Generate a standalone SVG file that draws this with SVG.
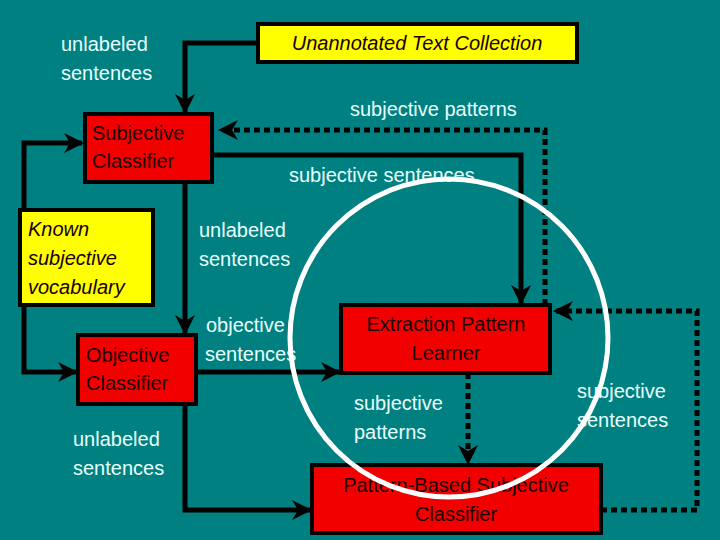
<svg xmlns="http://www.w3.org/2000/svg" width="720" height="540" viewBox="0 0 720 540">
<defs>
<marker id="ah" viewBox="0 0 20 20" refX="18" refY="10" markerWidth="20" markerHeight="20" markerUnits="userSpaceOnUse" orient="auto"><path d="M0,0 L20,10 L0,20 L6,10 Z" fill="#000"/></marker>
</defs>
<style>
.box{stroke:#000;stroke-width:4}
.red{fill:#f20000}.yel{fill:#ffff00}
.bt{font-family:"Liberation Sans",Arial,sans-serif;font-size:20px;fill:#1a0000}
.lbl{font-family:"Liberation Sans",Arial,sans-serif;font-size:20px;fill:#e8ffff}
.c{fill:none;stroke:#000;stroke-width:5}
.d{stroke-dasharray:6 4}
</style>
<rect width="720" height="540" fill="#008080"/>
<g id="connectors">
<path class="c" d="M257,43 H185 V112" marker-end="url(#ah)"/>
<path class="c d" d="M545,305 V130 H220" marker-end="url(#ah)"/>
<path class="c" d="M212,155 H521 V303" marker-end="url(#ah)"/>
<path class="c" d="M24,210 V143 H82" marker-end="url(#ah)"/>
<path class="c" d="M185,182 V333" marker-end="url(#ah)"/>
<path class="c" d="M24,305 V372 H76" marker-end="url(#ah)"/>
<path class="c" d="M196,372 H339" marker-end="url(#ah)"/>
<path class="c" d="M185,404 V510 H310" marker-end="url(#ah)"/>
<path class="c d" d="M468,373 V463" marker-end="url(#ah)"/>
<path class="c d" d="M601,510 H697 V311 H555" marker-end="url(#ah)"/>
</g>
<g id="unannotated"><rect class="box yel" x="258" y="24" width="319" height="38"/><text class="bt" x="417" y="50" text-anchor="middle" font-style="italic">Unannotated Text Collection</text></g>
<g id="subjective-classifier"><rect class="box red" x="85" y="114" width="127" height="68"/><text class="bt" x="92" y="140">Subjective</text><text class="bt" x="92" y="168">Classifier</text></g>
<g id="known"><rect class="box yel" x="20" y="210" width="133" height="95"/><text class="bt" x="28" y="236" font-style="italic">Known</text><text class="bt" x="28" y="265" font-style="italic">subjective</text><text class="bt" x="28" y="294" font-style="italic">vocabulary</text></g>
<g id="objective-classifier"><rect class="box red" x="78" y="335" width="118" height="69"/><text class="bt" x="86" y="362">Objective</text><text class="bt" x="86" y="390">Classifier</text></g>
<g id="extraction"><rect class="box red" x="341" y="305" width="209" height="68"/><text class="bt" x="446" y="331" text-anchor="middle">Extraction Pattern</text><text class="bt" x="446" y="360" text-anchor="middle">Learner</text></g>
<g id="pattern-based"><rect class="box red" x="312" y="465" width="289" height="68"/><text class="bt" x="456" y="492" text-anchor="middle">Pattern-Based Subjective</text><text class="bt" x="456" y="521" text-anchor="middle">Classifier</text></g>
<g id="labels">
<text class="lbl" x="61" y="51">unlabeled</text><text class="lbl" x="61" y="80">sentences</text>
<text class="lbl" x="350" y="116">subjective patterns</text>
<text class="lbl" x="289" y="182">subjective sentences</text>
<text class="lbl" x="199" y="237">unlabeled</text><text class="lbl" x="199" y="266">sentences</text>
<text class="lbl" x="206" y="332">objective</text><text class="lbl" x="205" y="361">sentences</text>
<text class="lbl" x="73" y="446">unlabeled</text><text class="lbl" x="73" y="475">sentences</text>
<text class="lbl" x="354" y="410">subjective</text><text class="lbl" x="354" y="439">patterns</text>
<text class="lbl" x="577" y="398">subjective</text><text class="lbl" x="577" y="427">sentences</text>
</g>
<circle cx="449" cy="338" r="159" fill="none" stroke="#fff" stroke-width="5"/>
</svg>
